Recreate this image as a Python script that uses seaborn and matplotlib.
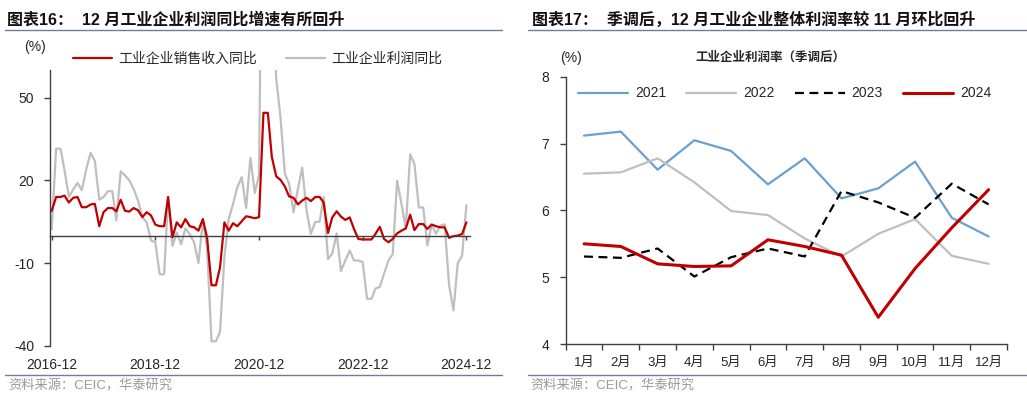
import numpy as np
import pandas as pd
import matplotlib
matplotlib.use("Agg")
import matplotlib.pyplot as plt
from matplotlib.lines import Line2D
import seaborn as sns

# ---- 图表16: monthly yoy (%), 2016-11 .. 2024-12 (Jan repeats the Jan-Feb value)
months_left = pd.date_range("2016-11-01", "2024-12-01", freq="MS")
revenue_yoy = [
    8.0, 9.0,
    14.0, 14.0, 14.5, 12.0, 13.7, 14.0, 10.3, 10.3, 11.3, 11.5, 3.4, 8.5,
    10.0, 10.0, 8.8, 13.0, 9.0, 8.7, 10.0, 9.2, 6.7, 8.5, 7.3, 4.0,
    3.4, 3.4, 14.0, -0.6, 4.8, 3.0, 6.0, 3.4, 3.0, 1.8, 6.0, -0.8,
    -18.0, -18.0, -11.5, 4.8, 1.8, 4.5, 3.4, 5.2, 7.0, 6.7, 6.3, 6.7,
    44.5, 44.5, 28.5, 21.5, 20.2, 17.8, 14.2, 13.7, 11.3, 12.7, 13.7, 12.5,
    14.0, 14.0, 12.0, 1.0, 6.6, 8.8, 6.9, 5.7, 6.6, 2.4, -1.2, -1.4,
    -1.4, -1.4, 0.6, 3.2, -1.2, -2.4, -1.2, 0.8, 1.8, 2.6, 7.6, 2.0,
    4.2, 4.2, 2.4, 4.0, 3.4, 3.0, 3.0, -0.8, -0.2, 0.0, 0.6, 4.8,
]
profit_yoy = [
    14.5, 2.3,
    31.5, 31.5, 23.8, 14.0, 16.7, 19.1, 16.5, 24.0, 30.0, 27.0, 13.0, 14.0,
    16.1, 16.1, 5.5, 23.3, 21.8, 20.0, 17.0, 12.7, 6.7, 4.8, -1.8, -2.4,
    -14.0, -14.0, 13.9, -3.7, 1.1, -3.1, 2.6, 0.5, -2.5, -9.9, 5.4, -4.2,
    -38.3, -38.3, -34.9, -7.9, 6.0, 11.5, 17.6, 21.2, 10.1, 28.2, 15.5, 22.0,
    178.9, 178.9, 92.3, 57.0, 43.0, 22.4, 18.8, 8.5, 17.0, 24.6, 9.0, 0.6,
    5.0, 5.0, 14.0, -8.5, -6.5, 0.8, -12.8, -9.0, -5.4, -9.0, -9.0, -9.6,
    -22.9, -22.9, -19.2, -18.6, -13.8, -9.0, -6.7, 19.9, 11.4, 2.7, 29.5, 26.0,
    10.2, 10.2, -3.5, 4.0, 0.7, 3.6, 4.1, -17.8, -27.1, -10.0, -7.3, 11.0,
]
left_ticks = ["2016-12", "2018-12", "2020-12", "2022-12", "2024-12"]

# ---- 图表17: profit margin, seasonally adjusted (%)
month_labels = [f"{i}月" for i in range(1, 13)]
margin_2021 = [7.12, 7.18, 6.61, 7.05, 6.89, 6.39, 6.78, 6.18, 6.33, 6.73, 5.89, 5.61]
margin_2022 = [6.55, 6.57, 6.78, 6.42, 5.99, 5.93, 5.58, 5.31, 5.65, 5.87, 5.32, 5.20]
margin_2023 = [5.31, 5.29, 5.43, 5.01, 5.30, 5.43, 5.31, 6.29, 6.12, 5.89, 6.40, 6.09]
margin_2024 = [5.50, 5.46, 5.20, 5.16, 5.17, 5.56, 5.46, 5.33, 4.40, 5.13, 5.74, 6.31]

RED = "#c00000"
GRAY = "#bfbfbf"
BLUE = "#6a9fd0"
AXC = "#404040"
RULE = "#6d7f96"

sns.set_style("white")
plt.rcParams["font.family"] = ["Liberation Sans", "Noto Sans CJK SC"]
plt.rcParams["axes.unicode_minus"] = False

fig = plt.figure(figsize=(10.27, 3.97), dpi=100)

# ================= left chart =================
ax1 = fig.add_axes([0.0487, 0.1285, 0.4090, 0.695])
left_df = pd.DataFrame({"month": months_left, "revenue": revenue_yoy, "profit": profit_yoy})
sns.lineplot(data=left_df, x="month", y="profit", ax=ax1, color=GRAY, lw=1.6,
             label="工业企业利润同比")
sns.lineplot(data=left_df, x="month", y="revenue", ax=ax1, color=RED, lw=1.6,
             label="工业企业销售收入同比")
ax1.set_ylim(-40, 60)
ax1.set_yticks([-40, -10, 20, 50])
ax1.set_xlim(pd.Timestamp("2016-11-19"), pd.Timestamp("2024-12-27"))
ax1.set_xticks(pd.to_datetime([t + "-01" for t in left_ticks]))
ax1.set_xticklabels(left_ticks)
ax1.set_xlabel("")
ax1.set_ylabel("")
for s in ["top", "right"]:
    ax1.spines[s].set_visible(False)
ax1.spines["bottom"].set_position(("data", 0))
for s in ["left", "bottom"]:
    ax1.spines[s].set_color(AXC)
    ax1.spines[s].set_linewidth(1.0)
ax1.tick_params(axis="x", direction="out", length=3, width=1, color=AXC,
                pad=85, labelsize=10, bottom=True)
ax1.tick_params(axis="y", direction="out", length=4.5, width=1, color=AXC,
                pad=7, labelsize=10, left=True)
h, l = ax1.get_legend_handles_labels()
ax1.get_legend().remove()
fig.legend(h[::-1], l[::-1], loc="center left", bbox_to_anchor=(73 / 1027, 1 - 59 / 397),
           ncol=2, frameon=False, fontsize=10, handlelength=2.8, handletextpad=0.45,
           columnspacing=2.1, borderpad=0, borderaxespad=0)
fig.text(35 / 1027, 1 - 47 / 397, "(%)", ha="center", va="center", fontsize=10)

# ================= right chart =================
ax2 = fig.add_axes([0.5508, 0.1335, 0.4297, 0.673])
mx = np.arange(1, 13)
sns.lineplot(x=mx, y=margin_2021, ax=ax2, color=BLUE, lw=1.6, label="2021")
sns.lineplot(x=mx, y=margin_2022, ax=ax2, color=GRAY, lw=1.6, label="2022")
sns.lineplot(x=mx, y=margin_2023, ax=ax2, color="black", lw=1.6, label="2023",
             dashes=False, linestyle=(0, (4, 2.5)))
sns.lineplot(x=mx, y=margin_2024, ax=ax2, color=RED, lw=2.2, label="2024")
ax2.set_ylim(4, 8)
ax2.set_yticks([4, 5, 6, 7, 8])
ax2.set_xlim(0.5, 12.5)
ax2.set_xticks(np.arange(0.5, 13, 1.0))
ax2.set_xticklabels([])
ax2.set_xticks(mx, minor=True)
ax2.set_xticklabels(month_labels, minor=True)
ax2.set_xlabel("")
ax2.set_ylabel("")
for s in ["top", "right"]:
    ax2.spines[s].set_visible(False)
for s in ["left", "bottom"]:
    ax2.spines[s].set_color(AXC)
    ax2.spines[s].set_linewidth(1.0)
ax2.tick_params(axis="x", which="major", direction="out", length=4, width=1,
                color=AXC, bottom=True)
ax2.tick_params(axis="x", which="minor", length=0, pad=9, labelsize=9.5, bottom=True)
ax2.tick_params(axis="y", direction="out", length=4, width=1, color=AXC,
                pad=8, labelsize=10, left=True)
ax2.legend(loc="center left", bbox_to_anchor=(0.028, 0.938), ncol=4, frameon=False,
           fontsize=10, handlelength=3.6, handletextpad=0.5, columnspacing=1.45,
           borderpad=0, borderaxespad=0)
fig.text(571 / 1027, 1 - 58 / 397, "(%)", ha="center", va="center", fontsize=10)
fig.text(770 / 1027, 1 - 58 / 397, "工业企业利润率（季调后）", ha="center", va="center",
         fontsize=9, fontweight="bold")

# ================= headers / footers =================
fig.text(7 / 1027, 1 - 20 / 397, "图表16：  12 月工业企业利润同比增速有所回升",
         ha="left", va="center", fontsize=11.5, fontweight="bold", color="#111111")
fig.text(532 / 1027, 1 - 20 / 397, "图表17：  季调后，12 月工业企业整体利润率较 11 月环比回升",
         ha="left", va="center", fontsize=11.5, fontweight="bold", color="#111111")
for x0, x1 in [(5, 502), (528, 1027)]:
    fig.add_artist(Line2D([x0 / 1027, x1 / 1027], [1 - 30 / 397] * 2, color=RULE, lw=1.0))
    fig.add_artist(Line2D([x0 / 1027, x1 / 1027], [1 - 374.5 / 397] * 2, color=RULE, lw=1.0))
fig.text(8 / 1027, 1 - 386 / 397, "资料来源：CEIC，华泰研究", ha="left", va="center",
         fontsize=9.5, color="#9a9a9a")
fig.text(530 / 1027, 1 - 386 / 397, "资料来源：CEIC，华泰研究", ha="left", va="center",
         fontsize=9.5, color="#9a9a9a")

fig.savefig("out.png", dpi=100)
